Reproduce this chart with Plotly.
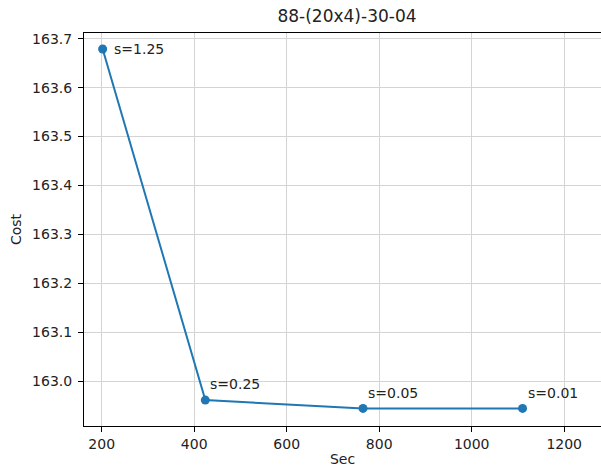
import plotly.graph_objects as go

sec = [202, 424, 765, 1110]
cost = [163.679, 162.961, 162.944, 162.944]
labels = ["s=1.25", "s=0.25", "s=0.05", "s=0.01"]
y_ticks = [163.0, 163.1, 163.2, 163.3, 163.4, 163.5, 163.6, 163.7]
x_ticks = [200, 400, 600, 800, 1000, 1200]

# label offsets in pixels (style only)
label_dx = [9, 3, 3, 3]
label_dy = [0, -16, -15, -15]

BLUE = "#1f77b4"
FONT = "DejaVu Sans"

fig = go.Figure()
fig.add_trace(go.Scatter(
    x=sec, y=cost, mode="lines+markers",
    line=dict(color=BLUE, width=2),
    marker=dict(color=BLUE, size=9),
    showlegend=False, hoverinfo="skip",
))

for xv, yv, t, dx, dy in zip(sec, cost, labels, label_dx, label_dy):
    fig.add_annotation(
        x=xv, y=yv, text=t, showarrow=False,
        xanchor="left", yanchor="middle",
        xshift=dx, yshift=-dy,
        font=dict(family=FONT, size=14, color="#222222"),
    )

axis_common = dict(
    showline=True, linecolor="black", linewidth=1,
    showgrid=True, gridcolor="#d4d4d4", gridwidth=1,
    ticks="outside", ticklen=5, tickwidth=1, tickcolor="black",
    tickfont=dict(family=FONT, size=14, color="#222222"),
    zeroline=False,
)

fig.update_layout(
    width=601, height=467,
    margin=dict(l=84, r=0, t=33, b=41, autoexpand=False),
    paper_bgcolor="white", plot_bgcolor="white",
    title=dict(text="88-(20x4)-30-04", x=347/601, xref="container", xanchor="center",
               y=1-16/467, yref="container", yanchor="middle",
               font=dict(family=FONT, size=17, color="#222222")),
    xaxis=dict(range=[161.7, 1279.6], tickvals=x_ticks, mirror=True,
               title=dict(text="Sec", standoff=8, font=dict(family=FONT, size=14, color="#222222")),
               **axis_common),
    yaxis=dict(range=[162.908, 163.7117], tickvals=y_ticks, tickformat=".1f",
               ticklabelstandoff=3,
               title=dict(text="Cost", standoff=7, font=dict(family=FONT, size=14, color="#222222")),
               **axis_common),
)

fig.write_html("out.html",
               config={"displayModeBar": False, "staticPlot": True},
               post_script="document.body.style.margin='0';document.body.style.overflow='hidden';")
